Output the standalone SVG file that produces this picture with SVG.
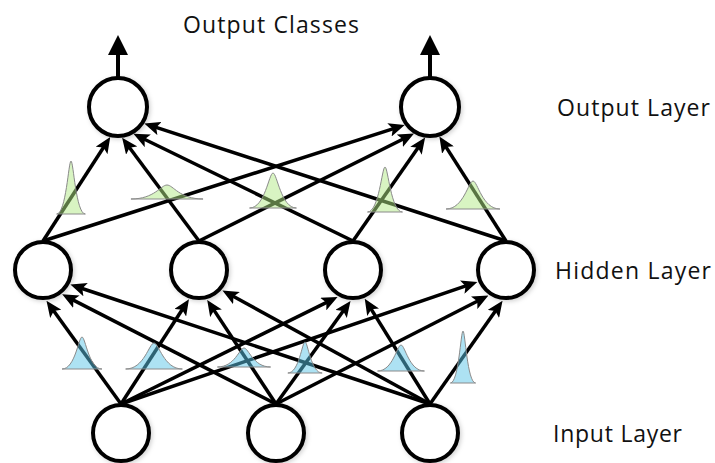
<svg xmlns="http://www.w3.org/2000/svg" width="715" height="463" viewBox="0 0 715 463">
  <style>
    .node { fill: #ffffff; stroke: #000000; stroke-width: 4; filter: url(#shadow); }
    .edge { fill: none; stroke: #000000; stroke-width: 3.5; marker-end: url(#ah); }
    .out { fill: none; stroke: #000000; stroke-width: 4; marker-end: url(#ahBig); }
    .label { font-family: "Open Sans", "Liberation Sans", sans-serif; font-size: 23px; fill: #111111; }
    .bell { stroke: #8a8a8a; stroke-width: 1; }
    .weight-out { fill: #b2ea86; fill-opacity: 0.5; }
    .weight-in { fill: #5cc6e8; fill-opacity: 0.5; }
  </style>
  <defs>
    <filter id="shadow" x="-30%" y="-30%" width="170%" height="170%">
      <feDropShadow dx="1.5" dy="1.5" stdDeviation="2" flood-color="#000000" flood-opacity="0.18"/>
    </filter>
    <marker id="ah" markerUnits="userSpaceOnUse" markerWidth="16" markerHeight="14" refX="10" refY="7" orient="auto">
      <path d="M0,0 L16,7 L0,14 L3.5,7 Z" fill="#000000"/>
    </marker>
    <marker id="ahBig" markerUnits="userSpaceOnUse" markerWidth="20" markerHeight="20" refX="12" refY="10" orient="auto">
      <path d="M0,0 L20,10 L0,20 Z" fill="#000000"/>
    </marker>
  </defs>

  <rect x="0" y="0" width="715" height="463" fill="#ffffff"/>

  <!-- connections -->
  <g id="connectors">
    <!-- input -> hidden -->
    <line class="edge" x1="121" y1="404" x2="50.0" y2="305.7"/>
    <line class="edge" x1="276" y1="404" x2="67.5" y2="297.1"/>
    <line class="edge" x1="430" y1="404" x2="76.1" y2="286.5"/>
    <line class="edge" x1="121" y1="404" x2="185.7" y2="304.3"/>
    <line class="edge" x1="276" y1="404" x2="210.5" y2="304.9"/>
    <line class="edge" x1="430" y1="404" x2="227.7" y2="293.3"/>
    <line class="edge" x1="121" y1="404" x2="332.2" y2="299.6"/>
    <line class="edge" x1="276" y1="404" x2="347.0" y2="305.8"/>
    <line class="edge" x1="430" y1="404" x2="367.9" y2="303.8"/>
    <line class="edge" x1="121" y1="404" x2="471.7" y2="283.9"/>
    <line class="edge" x1="276" y1="404" x2="483.1" y2="298.3"/>
    <line class="edge" x1="430" y1="404" x2="499.1" y2="305.7"/>
    <!-- hidden -> output -->
    <line class="edge" x1="43" y1="241" x2="107.0" y2="142.0"/>
    <line class="edge" x1="199" y1="241" x2="125.7" y2="142.5"/>
    <line class="edge" x1="353" y1="241" x2="138.8" y2="136.5"/>
    <line class="edge" x1="506" y1="241" x2="150.0" y2="125.4"/>
    <line class="edge" x1="43" y1="241" x2="399.0" y2="126.8"/>
    <line class="edge" x1="199" y1="241" x2="408.7" y2="136.3"/>
    <line class="edge" x1="353" y1="241" x2="421.7" y2="142.5"/>
    <line class="edge" x1="506" y1="241" x2="442.6" y2="141.6"/>
    <!-- class outputs -->
    <line class="out" x1="118" y1="78" x2="118" y2="43"/>
    <line class="out" x1="430" y1="78" x2="430" y2="43"/>
  </g>

  <!-- weight distributions, hidden -> output -->
  <g id="weights-upper">
    <path class="bell weight-out" d="M56.65,214 C66.08,214 68.54,161 71,161 C73.46,161 75.92,214 85.35,214 Z"/>
    <path class="bell weight-out" d="M130.95,199 C154.64,199 160.82,185 167,185 C173.18,185 179.36,199 203.05,199 Z"/>
    <path class="bell weight-out" d="M249.55,208 C264.96,208 268.98,173 273,173 C277.02,173 281.04,208 296.45,208 Z"/>
    <path class="bell weight-out" d="M367.5,212 C379,212 382,167 385,167 C388,167 391,212 402.5,212 Z"/>
    <path class="bell weight-out" d="M446.05,209 C463.76,209 468.38,181 473,181 C477.62,181 482.24,209 499.95,209 Z"/>
  </g>

  <!-- weight distributions, input -> hidden -->
  <g id="weights-lower">
    <path class="bell weight-in" d="M62.05,369 C75.16,369 78.58,337 82,337 C85.42,337 88.84,369 101.95,369 Z"/>
    <path class="bell weight-in" d="M125.65,369 C144.28,369 149.14,343 154,343 C158.86,343 163.72,369 182.35,369 Z"/>
    <path class="bell weight-in" d="M217.4,367 C234.88,367 239.44,348 244,348 C248.56,348 253.12,367 270.6,367 Z"/>
    <path class="bell weight-in" d="M287.85,373 C299.12,373 302.06,342 305,342 C307.94,342 310.88,373 322.15,373 Z"/>
    <path class="bell weight-in" d="M377.55,371 C392.96,371 396.98,345 401,345 C405.02,345 409.04,371 424.45,371 Z"/>
    <path class="bell weight-in" d="M450.4,383 C458.68,383 460.84,331 463,331 C465.16,331 467.32,383 475.6,383 Z"/>
  </g>

  <!-- output layer -->
  <g id="output-1"><circle class="node" cx="118" cy="107" r="29"/></g>
  <g id="output-2"><circle class="node" cx="430" cy="107" r="29"/></g>

  <!-- hidden layer -->
  <g id="hidden-1"><circle class="node" cx="43" cy="270" r="28"/></g>
  <g id="hidden-2"><circle class="node" cx="199" cy="270" r="28"/></g>
  <g id="hidden-3"><circle class="node" cx="353" cy="270" r="28"/></g>
  <g id="hidden-4"><circle class="node" cx="506" cy="270" r="28"/></g>

  <!-- input layer -->
  <g id="input-1"><circle class="node" cx="121" cy="433" r="28"/></g>
  <g id="input-2"><circle class="node" cx="276" cy="433" r="28"/></g>
  <g id="input-3"><circle class="node" cx="430" cy="433" r="28"/></g>

  <!-- labels -->
  <g id="labels">
    <text class="label" x="183" y="33" textLength="176">Output Classes</text>
    <text class="label" x="557" y="116" textLength="153">Output Layer</text>
    <text class="label" x="555" y="279" textLength="156">Hidden Layer</text>
    <text class="label" x="553" y="442" textLength="129">Input Layer</text>
  </g>
</svg>
